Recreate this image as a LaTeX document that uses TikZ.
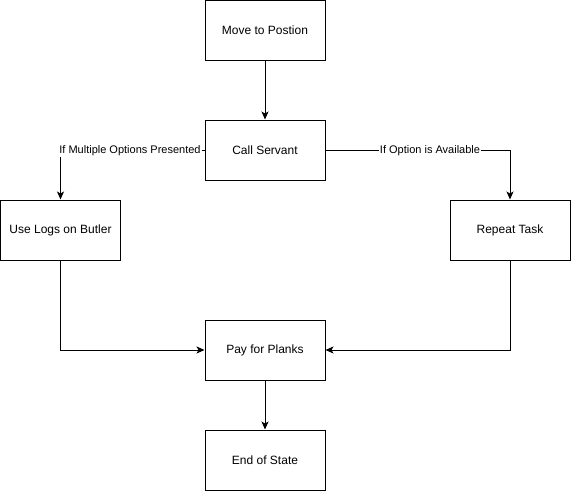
\documentclass[tikz,border=0pt]{standalone}
\usepackage{fontspec}
\setmainfont{Liberation Sans}
\usetikzlibrary{arrows.meta}
\begin{document}
\begin{tikzpicture}[x=1pt,y=-1pt,
  box/.style={draw=black,line width=1pt,minimum width=120pt,minimum height=60pt,inner sep=0pt,font=\fontsize{12}{14}\selectfont,fill=white},
  conn/.style={draw=black,line width=1pt,-{Stealth[length=8pt,width=7pt,inset=2pt]}},
  lbl/.style={fill=white,inner sep=1pt,font=\fontsize{11}{13}\selectfont}]
\useasboundingbox (0,0) rectangle (571,491);
\node[box] (move) at (265,30) {Move to Postion};
\node[box] (call) at (265,150) {Call Servant};
\node[box] (logs) at (60.5,230) {Use Logs on Butler};
\node[box] (rep) at (510,230) {Repeat Task};
\node[box] (pay) at (265,350) {Pay for Planks};
\node[box] (end) at (265,460) {End of State};
\draw[conn] (move) -- (call);
\draw[conn] (call.west) -| (logs.north);
\draw[conn] (call.east) -| (rep.north);
\draw[conn] (logs.south) |- (pay.west);
\draw[conn] (rep.south) |- (pay.east);
\draw[conn] (pay) -- (end);
\node[lbl] (l1) at (130,151) {If Multiple Options Presented};
\node[lbl] (l2) at (430,151) {If Option is Available};
\end{tikzpicture}
\end{document}
